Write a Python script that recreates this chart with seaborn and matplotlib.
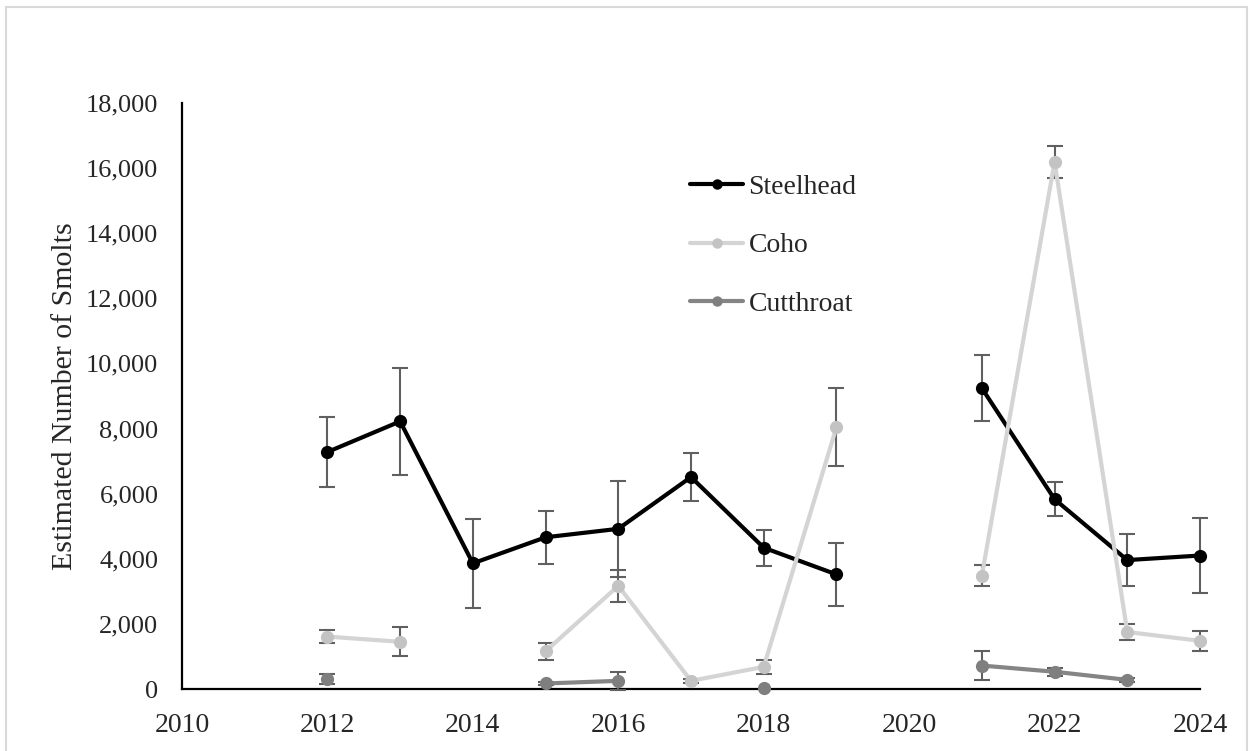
import numpy as np
import pandas as pd
import matplotlib
matplotlib.use("Agg")
import matplotlib.pyplot as plt
from matplotlib.lines import Line2D
from matplotlib.patches import Rectangle
import seaborn as sns

years = list(range(2012, 2025))
steelhead = [7280, 8220, 3860, 4660, 4920, 6510, 4340, 3520, np.nan, 9240, 5830, 3960, 4100]
steelhead_err = [1060, 1650, 1370, 810, 1480, 740, 550, 970, np.nan, 1010, 530, 790, 1150]
coho = [1610, 1450, np.nan, 1160, 3170, 250, 680, 8040, np.nan, 3480, 16190, 1750, 1480]
coho_err = [210, 450, np.nan, 260, 490, 60, 210, 1200, np.nan, 330, 490, 240, 310]
cutthroat = [310, np.nan, np.nan, 170, 250, np.nan, 40, np.nan, np.nan, 720, 530, 280, np.nan]
cutthroat_err = [150, np.nan, np.nan, 60, 270, np.nan, np.nan, np.nan, np.nan, 440, 130, 70, np.nan]

species = ["Steelhead", "Coho", "Cutthroat"]
line_colors = {"Steelhead": "#000000", "Coho": "#d4d4d4", "Cutthroat": "#858585"}
marker_colors = {"Steelhead": "#000000", "Coho": "#c3c3c3", "Cutthroat": "#7f7f7f"}
err_color = "#606060"

series = {"Steelhead": (steelhead, steelhead_err),
          "Coho": (coho, coho_err),
          "Cutthroat": (cutthroat, cutthroat_err)}

# long table; a new segment id starts after every missing year so gaps stay open
rows = []
for sp in species:
    vals, errs = series[sp]
    seg = 0
    for yr, v, e in zip(years, vals, errs):
        if np.isnan(v):
            seg += 1
            continue
        rows.append({"year": yr, "value": v, "err": e, "species": sp, "segment": f"{sp}-{seg}"})
df = pd.DataFrame(rows)

sns.set_theme(style="white")
plt.rcParams["font.family"] = ["Liberation Serif", "DejaVu Serif"]

fig = plt.figure(figsize=(12.5, 7.51), dpi=100)
fig.patches.append(Rectangle((6 / 1250, -0.05), (1247 - 6) / 1250, 1 - 7 / 751 + 0.05,
                             transform=fig.transFigure, fill=False,
                             edgecolor="#d9d9d9", linewidth=1.5, zorder=0))
ax = fig.add_axes([182 / 1250, 1 - 689 / 751, (1200 - 182) / 1250, (689 - 103) / 751])

for z, sp in enumerate(species):
    sub = df[df["species"] == sp]
    # error bars first so the markers sit over them
    ok = sub.dropna(subset=["err"])
    eb = ax.errorbar(ok["year"], ok["value"], yerr=ok["err"], fmt="none",
                     ecolor=err_color, elinewidth=1.5, capsize=5.5, capthick=1.5, zorder=2 + z)
    for art in eb.lines[1] + eb.lines[2]:
        art.set_clip_on(False)
    sns.lineplot(data=sub, x="year", y="value", units="segment", estimator=None,
                 color=line_colors[sp], linewidth=3.0, marker="o", markersize=9.5,
                 markerfacecolor=marker_colors[sp], markeredgecolor=marker_colors[sp],
                 markeredgewidth=0, ax=ax, legend=False, zorder=3 + z, clip_on=False)

ax.set_xlim(2010, 2024)
ax.set_ylim(0, 18000)
ax.set_xticks(range(2010, 2025, 2))
ax.set_yticks(range(0, 18001, 2000))
ax.yaxis.set_major_formatter(matplotlib.ticker.FuncFormatter(lambda v, p: f"{int(v):,}"))
ax.set_xlabel("")
ax.set_ylabel("Estimated Number of Smolts", fontsize=21.5, labelpad=6)
ax.tick_params(axis="both", length=0)
ax.tick_params(axis="y", pad=17, labelsize=19)
ax.tick_params(axis="x", pad=17.5, labelsize=20)
for s in ["top", "right"]:
    ax.spines[s].set_visible(False)
for s in ["left", "bottom"]:
    ax.spines[s].set_color("black")
    ax.spines[s].set_linewidth(1.6)

handles = [Line2D([0], [0], color=line_colors[sp], linewidth=3.0, marker="o", markersize=7.5,
                  markerfacecolor=marker_colors[sp], markeredgewidth=0) for sp in species]
fig.legend(handles, species, loc="upper left", bbox_to_anchor=(679 / 1250, 1 - 163 / 751),
           frameon=False, fontsize=20, handlelength=1.9, handletextpad=0.2,
           labelspacing=1.2, borderaxespad=0)

fig.savefig("out.png", dpi=100, facecolor="white")
